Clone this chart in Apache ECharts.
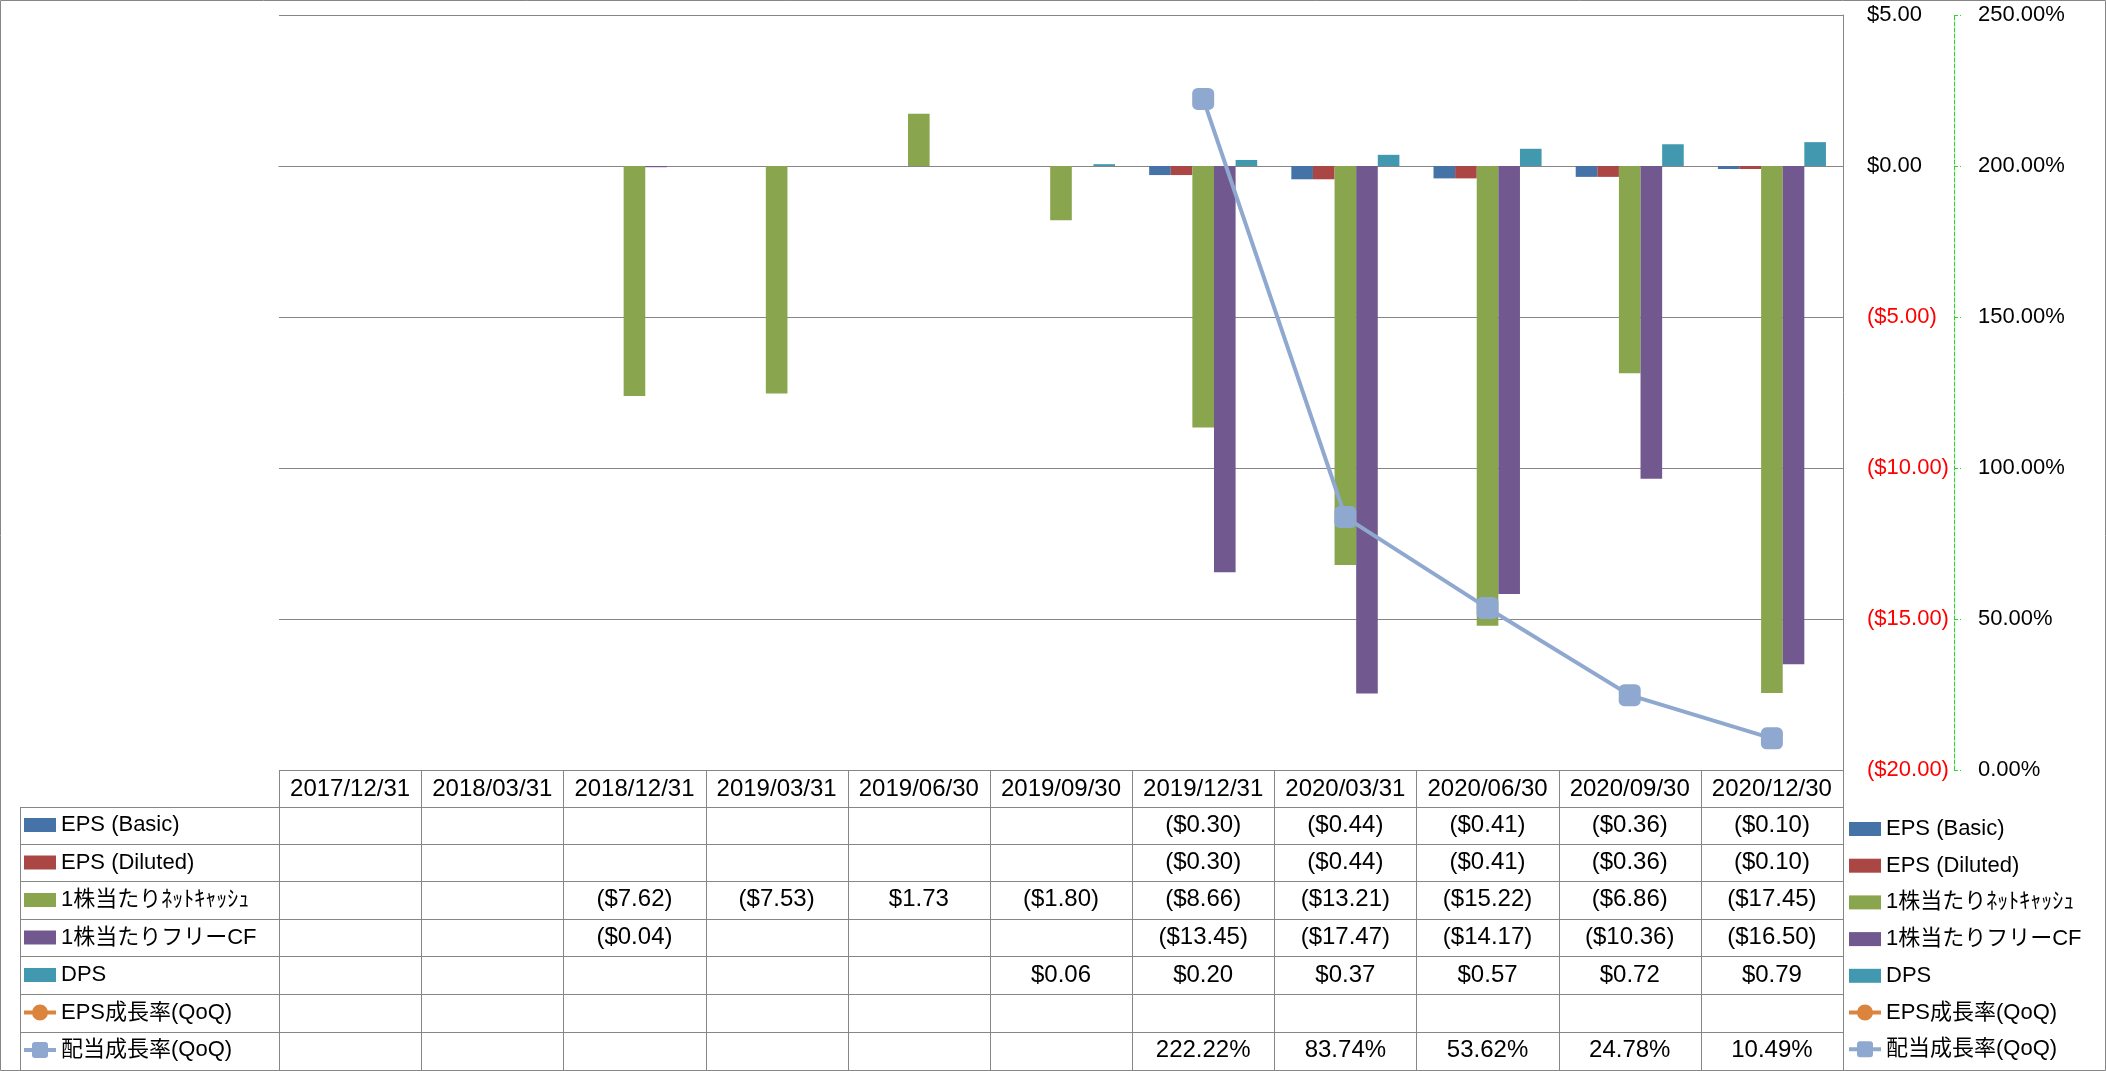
<!DOCTYPE html>
<html><head><meta charset="utf-8">
<script src="https://cdn.jsdelivr.net/npm/echarts@6/dist/echarts.min.js"></script>
<style>html,body{margin:0;padding:0;background:#fff}#c{width:2106px;height:1071px}</style>
</head><body><div id="c"></div>
<script>
// ---- data ----
const categories = ['2017/12/31','2018/03/31','2018/12/31','2019/03/31','2019/06/30','2019/09/30','2019/12/31','2020/03/31','2020/06/30','2020/09/30','2020/12/30'];
const epsBasic      = [null,null,null,null,null,null,-0.30,-0.44,-0.41,-0.36,-0.10];
const epsDiluted    = [null,null,null,null,null,null,-0.30,-0.44,-0.41,-0.36,-0.10];
const netCashPS     = [null,null,-7.62,-7.53,1.73,-1.80,-8.66,-13.21,-15.22,-6.86,-17.45];
const freeCfPS      = [null,null,-0.04,null,null,null,-13.45,-17.47,-14.17,-10.36,-16.50];
const dps           = [null,null,null,null,null,0.06,0.20,0.37,0.57,0.72,0.79];
const epsGrowth     = [null,null,null,null,null,null,null,null,null,null,null];
const divGrowth     = [null,null,null,null,null,null,222.22,83.74,53.62,24.78,10.49];
const seriesNames   = ['EPS (Basic)','EPS (Diluted)','1株当たりﾈｯﾄｷｬｯｼｭ','1株当たりフリーCF','DPS','EPS成長率(QoQ)','配当成長率(QoQ)'];
const dollarAxis    = {min:-20, max:5, interval:5};
const pctAxis       = {min:0, max:250, interval:50};

// ---- style ----
const FONT = '"Liberation Sans", "Noto Sans CJK JP", sans-serif';
const FS = 22;      // axis labels
const TFS = 24;     // table text
const GRID = '#868686';
const colors = ['#4572A7','#AA4643','#89A54E','#71588F','#4198AF','#DB843D','#8FA8D0'];

function fmtDollar(v){ return v < 0 ? '($' + Math.abs(v).toFixed(2) + ')' : '$' + v.toFixed(2); }
function fmtPct(v){ return v.toFixed(2) + '%'; }

const chart = echarts.init(document.getElementById('c'), null, {renderer:'canvas'});

const barData = [epsBasic, epsDiluted, netCashPS, freeCfPS, dps];
const series = [];
barData.forEach((d, i) => {
  series.push({name: seriesNames[i], type:'bar', yAxisIndex:0, data:d, barGap:'0%', barCategoryGap:'24%',
    itemStyle:{color:colors[i]}, animation:false});
});
series.push({name: seriesNames[5], type:'line', yAxisIndex:1, data:epsGrowth, symbol:'circle', symbolSize:20,
  lineStyle:{color:colors[5], width:4}, itemStyle:{color:colors[5]}, animation:false});
series.push({name: seriesNames[6], type:'line', yAxisIndex:1, data:divGrowth, symbol:'roundRect', symbolSize:22,
  lineStyle:{color:colors[6], width:4}, itemStyle:{color:colors[6]}, animation:false, z:5});

const ICON_RECT = 'path://M0,2H32V16H0Z';
const ICON_CIRCLE = 'path://M0,7H32V11H0Z M8,9A8,8 0 1 1 24,9A8,8 0 1 1 8,9Z';
const ICON_RSQ = 'path://M0,7H32V11H0Z M11,1H21A3,3 0 0 1 24,4V14A3,3 0 0 1 21,17H11A3,3 0 0 1 8,14V4A3,3 0 0 1 11,1Z';
const legendIcons = [ICON_RECT, ICON_RECT, ICON_RECT, ICON_RECT, ICON_RECT, ICON_CIRCLE, ICON_RSQ];

function legendCfg(left, top, gap){
  return {
    orient:'vertical', left:left, top:top, padding:0, itemGap:gap, itemWidth:32, itemHeight:18,
    selectedMode:false, symbolKeepAspect:true,
    textStyle:{fontFamily:FONT, fontSize:22, lineHeight:24, color:'#000', padding:[0,0,0,0]},
    data: seriesNames.map((n,i)=> ({name:n, icon:legendIcons[i]}))
  };
}

chart.setOption({
  backgroundColor:'#fff',
  animation:false,
  textStyle:{fontFamily:FONT},
  grid:{left:279, right:263, top:15, bottom:301, containLabel:false},
  legend:[legendCfg(24, 813, 13.5), legendCfg(1849, 817, 12.7)],
  xAxis:{type:'category', data:categories, position:'bottom',
    axisLine:{show:true, lineStyle:{color:GRID}}, axisTick:{show:false},
    axisLabel:{interval:0, margin:7, fontSize:TFS, fontFamily:FONT, color:'#000'}},
  yAxis:[
    {type:'value', position:'right', min:dollarAxis.min, max:dollarAxis.max, interval:dollarAxis.interval,
      axisLine:{show:true, lineStyle:{color:GRID}}, axisTick:{show:false},
      splitLine:{show:true, lineStyle:{color:GRID, width:1}},
      axisLabel:{margin:24, fontSize:FS, fontFamily:FONT,
        formatter: v => v < 0 ? '{n|' + fmtDollar(v) + '}' : '{p|' + fmtDollar(v) + '}',
        rich:{n:{color:'#FF0000', fontSize:FS, fontFamily:FONT}, p:{color:'#000', fontSize:FS, fontFamily:FONT}}}},
    {type:'value', position:'right', offset:111, min:pctAxis.min, max:pctAxis.max, interval:pctAxis.interval,
      axisLine:{show:true, lineStyle:{color:'#22DD22', type:'dashed', width:1}},
      axisTick:{show:true, length:7, lineStyle:{color:'#22DD22', type:'dashed'}},
      splitLine:{show:false},
      axisLabel:{margin:24, fontSize:FS, fontFamily:FONT, color:'#000', formatter: v => fmtPct(v)}}
  ],
  series: series
});

// ---- data table (positions from the category axis) ----
const rowTops = [807, 843.5, 881, 918.7, 956.3, 994, 1031.5, 1070];
const tableRows = [
  {d:epsBasic, f:fmtDollar}, {d:epsDiluted, f:fmtDollar}, {d:netCashPS, f:fmtDollar},
  {d:freeCfPS, f:fmtDollar}, {d:dps, f:fmtDollar}, {d:epsGrowth, f:fmtPct}, {d:divGrowth, f:fmtPct}
];
const c0 = chart.convertToPixel({xAxisIndex:0}, 0);
const c1 = chart.convertToPixel({xAxisIndex:0}, 1);
const band = c1 - c0;
const gridLeft = c0 - band/2;
const gridRight = chart.convertToPixel({xAxisIndex:0}, categories.length-1) + band/2;
const tableTop = chart.convertToPixel({yAxisIndex:0}, dollarAxis.min);
const els = [];
function line(x1,y1,x2,y2){
  els.push({type:'line', silent:true, z:10, shape:{x1:x1,y1:y1,x2:x2,y2:y2}, style:{stroke:GRID, lineWidth:1}});
}
for (let i=0;i<=categories.length;i++){
  const x = Math.round(gridLeft + i*band) + 0.5;
  line(x, tableTop, x, 1070);
}
line(20.5, rowTops[0], 20.5, 1070);
rowTops.forEach(y => line(20, Math.round(y)+0.5, Math.round(gridRight)+1, Math.round(y)+0.5));
tableRows.forEach((r, ri) => {
  const yc = (rowTops[ri] + rowTops[ri+1]) / 2;
  r.d.forEach((v, ci) => {
    if (v === null) return;
    const xc = chart.convertToPixel({xAxisIndex:0}, ci);
    els.push({type:'text', silent:true, z:10, style:{text:r.f(v), x:xc, y:yc, align:'center', verticalAlign:'middle',
      textAlign:'center', textVerticalAlign:'middle', fontSize:TFS, fontFamily:FONT, fill:'#000'}});
  });
});
// outer chart border
els.push({type:'rect', silent:true, z:10, shape:{x:0.5,y:0.5,width:2105,height:1070}, style:{fill:null, stroke:GRID, lineWidth:1}});
chart.setOption({graphic:{elements:els}});
</script></body></html>
